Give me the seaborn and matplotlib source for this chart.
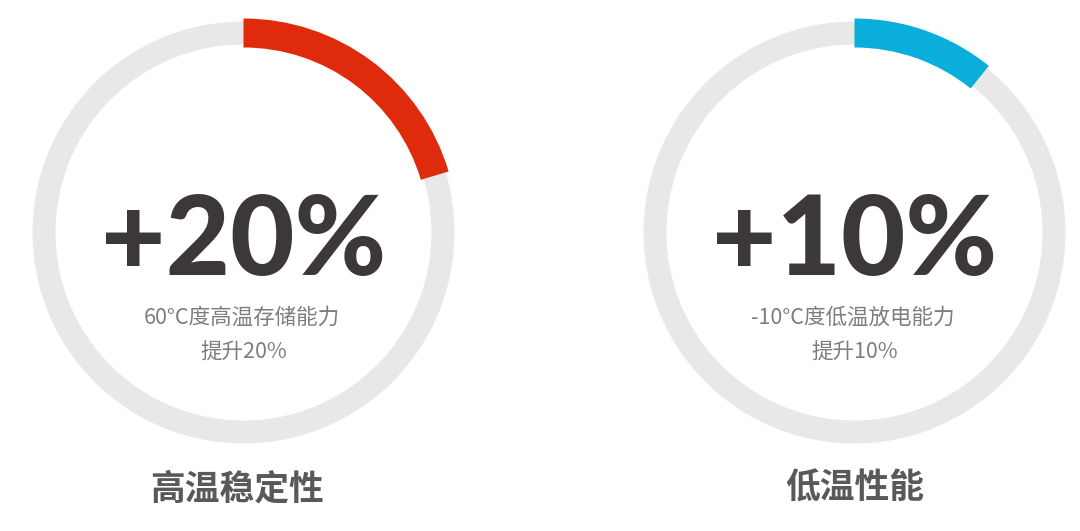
import matplotlib
matplotlib.use("Agg")
import matplotlib.pyplot as plt
import seaborn as sns

# data
titles = ["高温稳定性", "低温性能"]
big_labels = ["+20%", "+10%"]
sub_lines = ["60°C度高温存储能力", "-10°C度低温放电能力"]
lift_lines = ["提升20%", "提升10%"]
arc_share = [0.204, 0.108]          # filled part of each ring
arc_colors = ["#e02a0c", "#0aaedb"]

sns.set_theme(style="white")
plt.rcParams["font.family"] = ["Noto Sans CJK SC", "DejaVu Sans"]

W, H = 1080, 531
fig = plt.figure(figsize=(W / 100, H / 100), dpi=100)
ax = fig.add_axes([0, 0, 1, 1])

# ring centres in pixel coords (y measured from top)
centers = [(243.5, 232.5), (854.5, 232.5)]

for i, (cx, cy) in enumerate(centers):
    c = (cx, H - cy)
    # grey track
    ax.pie([1], radius=211, center=c, colors=["#e8e8e8"], startangle=90,
           wedgeprops=dict(width=23, linewidth=0))
    # coloured progress arc, a bit thicker than the track
    ax.pie([arc_share[i], 1 - arc_share[i]], radius=214, center=c,
           colors=[arc_colors[i], "none"], startangle=90, counterclock=False,
           wedgeprops=dict(width=29, linewidth=0))

    ax.text(cx, H - 275, big_labels[i], ha="center", va="baseline",
            fontsize=80, fontweight=900, color="#3b3837",
            family=["Lato", "DejaVu Sans"])
    ax.text(cx - 2, H - 324, sub_lines[i], ha="center", va="baseline",
            fontsize=15.5, color="#7d7d7d")
    ax.text(cx, H - 359, lift_lines[i], ha="center", va="baseline",
            fontsize=15.5, color="#7d7d7d")
    ax.text(cx - 7 if i == 0 else cx, H - 499, titles[i], ha="center",
            va="baseline", fontsize=25, fontweight="bold", color="#595959")

ax.set_xlim(0, W)
ax.set_ylim(0, H)
ax.set_aspect("equal")
ax.axis("off")

fig.savefig("out.png", dpi=100, facecolor="white")
